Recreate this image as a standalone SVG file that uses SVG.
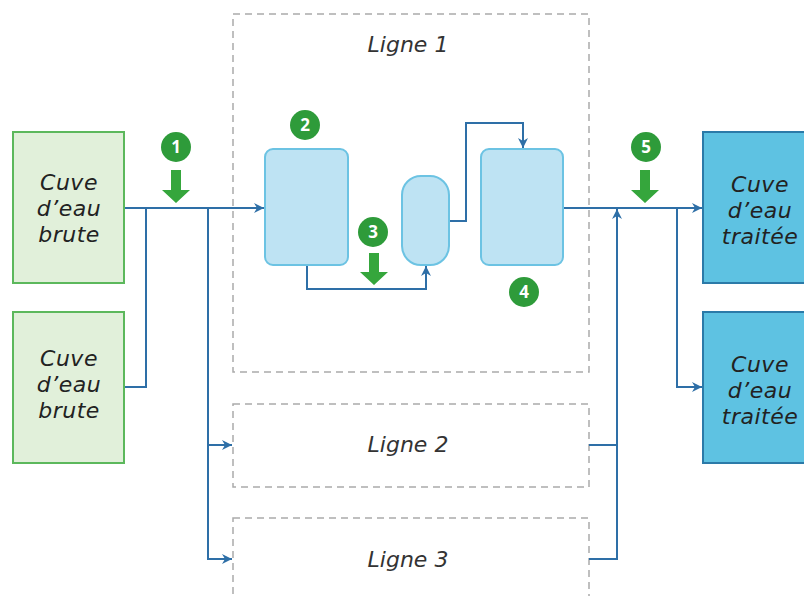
<svg xmlns="http://www.w3.org/2000/svg" width="804" height="596" viewBox="0 0 804 596">
<defs>
<style>
.lbl{font-family:"DejaVu Sans","Noto Sans",sans-serif;font-style:italic;font-size:22px;letter-spacing:0.5px;fill:#222;text-anchor:middle}
.ln{font-family:"DejaVu Sans","Noto Sans",sans-serif;font-style:italic;font-size:22px;fill:#333;text-anchor:middle}
.raw{fill:#e1f0da;stroke:#5cb85c;stroke-width:2}
.trt{fill:#5ec2e2;stroke:#2b7aa8;stroke-width:2}
.tank{fill:#bee3f3;stroke:#6cc3e3;stroke-width:2}
.dash{fill:none;stroke:#aaa;stroke-width:1.5;stroke-dasharray:7 5}
.con{fill:none;stroke:#2e6fa7;stroke-width:2}
.bdg{fill:#2e9b3a}
.bnum{font-family:"Open Sans","Noto Sans",sans-serif;font-weight:bold;font-size:17px;fill:#fff;text-anchor:middle}
.arr{fill:#35a63c}
</style>
<marker id="ah" viewBox="0 0 10 10" refX="10" refY="5" markerWidth="10" markerHeight="10" markerUnits="userSpaceOnUse" orient="auto">
<path d="M0,0 L10,5 L0,10 L3,5 Z" fill="#2e6fa7"/>
</marker>
</defs>

<g id="ligne1"><rect class="dash" x="233" y="14" width="356" height="358"/><text class="ln" x="408" y="52">Ligne 1</text></g>
<g id="ligne2"><rect class="dash" x="233" y="404" width="356" height="83"/><text class="ln" x="408" y="452">Ligne 2</text></g>
<g id="ligne3"><rect class="dash" x="233" y="518" width="356" height="90"/><text class="ln" x="408" y="567">Ligne 3</text></g>

<g id="connectors">
<path class="con" d="M124,208 H264" marker-end="url(#ah)"/>
<path class="con" d="M124,387 H146 V208"/>
<path class="con" d="M208,208 V559 H232" marker-end="url(#ah)"/>
<path class="con" d="M208,445 H232" marker-end="url(#ah)"/>
<path class="con" d="M307,265 V289 H426 V266" marker-end="url(#ah)"/>
<path class="con" d="M449,221 H466 V123 H523 V148" marker-end="url(#ah)"/>
<path class="con" d="M563,208 H702" marker-end="url(#ah)"/>
<path class="con" d="M589,445 H617"/>
<path class="con" d="M589,559 H617 V209" marker-end="url(#ah)"/>
<path class="con" d="M677,208 V387 H702" marker-end="url(#ah)"/>
</g>

<g id="brute1"><rect class="raw" x="13" y="132" width="111" height="151"/>
<text class="lbl" x="69" y="190">Cuve</text><text class="lbl" x="69" y="216">d’eau</text><text class="lbl" x="69" y="242">brute</text></g>
<g id="brute2"><rect class="raw" x="13" y="312" width="111" height="151"/>
<text class="lbl" x="69" y="366">Cuve</text><text class="lbl" x="69" y="392">d’eau</text><text class="lbl" x="69" y="418">brute</text></g>

<g id="traitee1"><rect class="trt" x="703" y="132" width="110" height="151"/>
<text class="lbl" x="760" y="192">Cuve</text><text class="lbl" x="760" y="218">d’eau</text><text class="lbl" x="760" y="244">traitée</text></g>
<g id="traitee2"><rect class="trt" x="703" y="312" width="110" height="151"/>
<text class="lbl" x="760" y="372">Cuve</text><text class="lbl" x="760" y="398">d’eau</text><text class="lbl" x="760" y="424">traitée</text></g>

<g id="tank2"><rect class="tank" x="265" y="149" width="83" height="116" rx="8"/></g>
<g id="tank3"><rect class="tank" x="402" y="176" width="47" height="89" rx="19"/></g>
<g id="tank4"><rect class="tank" x="481" y="149" width="82" height="116" rx="8"/></g>

<g id="step1"><circle class="bdg" cx="176" cy="147" r="15"/><text class="bnum" x="176" y="153">1</text>
<path class="arr" d="M171,170 H181 V190 H190 L176,203 L162,190 H171 Z"/></g>
<g id="step2"><circle class="bdg" cx="305" cy="125" r="15"/><text class="bnum" x="305" y="131">2</text></g>
<g id="step3"><circle class="bdg" cx="373" cy="232" r="15"/><text class="bnum" x="373" y="238">3</text>
<path class="arr" d="M369,253 H379 V272 H388 L374,285 L360,272 H369 Z"/></g>
<g id="step4"><circle class="bdg" cx="524" cy="292" r="15"/><text class="bnum" x="524" y="298">4</text></g>
<g id="step5"><circle class="bdg" cx="646" cy="147" r="15"/><text class="bnum" x="646" y="153">5</text>
<path class="arr" d="M640,170 H650 V190 H659 L645,203 L631,190 H640 Z"/></g>
</svg>
